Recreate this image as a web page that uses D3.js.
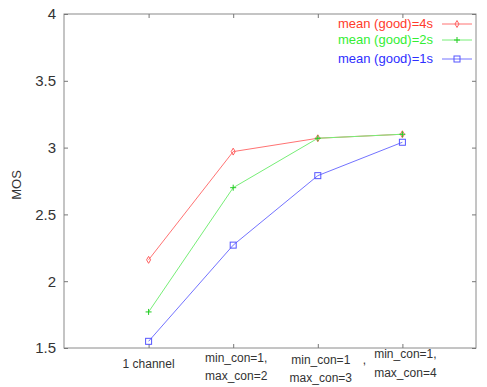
<!DOCTYPE html>
<html>
<head>
<meta charset="utf-8">
<script src="https://cdn.jsdelivr.net/npm/d3@7"></script>
<style>
  body { margin: 0; background: #fff; }
  text { font-family: Arial, "Liberation Sans", sans-serif; }
</style>
</head>
<body>
<svg width="487" height="387"></svg>
<script>
// categories (x) and the three series
const categories = ['1 channel', 'min_con=1,|max_con=2', 'min_con=1|max_con=3', 'min_con=1,|max_con=4'];
const good4s = [2.16, 2.97, 3.07, 3.10];
const good2s = [1.77, 2.70, 3.07, 3.10];
const good1s = [1.55, 2.27, 2.79, 3.04];
const yTicks = [1.5, 2, 2.5, 3, 3.5, 4];

const series = [
  { name: 'mean (good)=4s', values: good4s, text: '#ff3b2b', line: '#ff7373', mk: '#ff6060', marker: 'diamond' },
  { name: 'mean (good)=2s', values: good2s, text: '#33ee33', line: '#77ee77', mk: '#22cc22', marker: 'plus' },
  { name: 'mean (good)=1s', values: good1s, text: '#2e2eff', line: '#7373ff', mk: '#5555ff', marker: 'square' },
];

const svg = d3.select('svg');
const mLeft = 64, mRight = 476, mTop = 14, mBottom = 348;

const x = d3.scaleLinear().domain([0, 4.87]).range([mLeft, mRight]);
const y = d3.scaleLinear().domain([1.5, 4]).range([mBottom, mTop]);

// frame
svg.append('rect')
  .attr('x', mLeft).attr('y', mTop)
  .attr('width', mRight - mLeft).attr('height', mBottom - mTop)
  .attr('fill', '#fff').attr('stroke', '#8a8a8a').attr('stroke-width', 1);

// axes, ticks inside on all four sides
const yAxis = svg.append('g').attr('transform', `translate(${mLeft},0)`)
  .call(d3.axisLeft(y).tickValues(yTicks).tickSizeInner(-4).tickSizeOuter(0).tickPadding(8).tickFormat(d3.format('')));
const yAxisR = svg.append('g').attr('transform', `translate(${mRight},0)`)
  .call(d3.axisRight(y).tickValues(yTicks).tickSizeInner(-4).tickSizeOuter(0).tickFormat(''));
const xAxis = svg.append('g').attr('transform', `translate(0,${mBottom})`)
  .call(d3.axisBottom(x).tickValues([1, 2, 3, 4]).tickSizeInner(-4).tickSizeOuter(0).tickFormat(''));
const xAxisT = svg.append('g').attr('transform', `translate(0,${mTop})`)
  .call(d3.axisTop(x).tickValues([1, 2, 3, 4]).tickSizeInner(-4).tickSizeOuter(0).tickFormat(''));
[yAxis, yAxisR, xAxis, xAxisT].forEach(g => {
  g.select('.domain').remove();
  g.selectAll('line').attr('stroke', '#777');
});
yAxis.selectAll('text').attr('font-size', 15).attr('fill', '#333')
  .attr('font-family', 'Arial, "Liberation Sans", sans-serif');

// y label
svg.append('text')
  .attr('transform', `translate(21,${(mTop + mBottom) / 2 + 4}) rotate(-90)`)
  .attr('text-anchor', 'middle')
  .attr('font-size', 13).attr('fill', '#333')
  .text('MOS');

// x category labels (two lines where needed)
const labelOffsets = [[16], [10, 28], [12, 30], [6, 25]];
categories.forEach((c, i) => {
  const lines = c.split('|');
  lines.forEach((s, j) => {
    svg.append('text')
      .attr('x', x(i + 1) + (i === 0 ? 0 : 3))
      .attr('y', mBottom + labelOffsets[i][j] + 4)
      .attr('text-anchor', 'middle')
      .attr('font-size', 12).attr('fill', '#333')
      .text(s);
  });
});
// stray comma by the third label
svg.append('text').attr('x', x(3) + 45).attr('y', mBottom + 16)
  .attr('font-size', 12).attr('fill', '#333').text(',');

const line = d3.line()
  .x((d, i) => x(i + 1))
  .y(d => y(d));

function drawMarker(g, type, color, cx, cy) {
  if (type === 'diamond') {
    g.append('path')
      .attr('d', d3.symbol(d3.symbolDiamond, 14)())
      .attr('transform', `translate(${cx},${cy})`)
      .attr('fill', 'none').attr('stroke', color).attr('stroke-width', 1);
  } else if (type === 'plus') {
    g.append('path')
      .attr('d', `M${cx - 3},${cy}H${cx + 3}M${cx},${cy - 3}V${cy + 3}`)
      .attr('stroke', color).attr('stroke-width', 1);
  } else {
    g.append('rect')
      .attr('x', cx - 3).attr('y', cy - 3).attr('width', 6).attr('height', 6)
      .attr('fill', 'none').attr('stroke', color).attr('stroke-width', 1);
  }
}

const plot = svg.append('g');
series.forEach(s => {
  plot.append('path')
    .attr('d', line(s.values))
    .attr('fill', 'none')
    .attr('stroke', s.line)
    .attr('stroke-width', 1);
  s.values.forEach((v, i) => drawMarker(plot, s.marker, s.mk, x(i + 1), y(v)));
});

// legend
const legendY = [24, 40, 59];
series.forEach((s, i) => {
  const ly = legendY[i];
  svg.append('text')
    .attr('x', 433).attr('y', ly + 4)
    .attr('text-anchor', 'end')
    .attr('font-size', 13)
    .attr('fill', s.text)
    .text(s.name);
  svg.append('line')
    .attr('x1', 442).attr('x2', 472).attr('y1', ly).attr('y2', ly)
    .attr('stroke', s.line).attr('stroke-width', 1);
  drawMarker(svg, s.marker, s.mk, 457, ly);
});
</script>
</body>
</html>
